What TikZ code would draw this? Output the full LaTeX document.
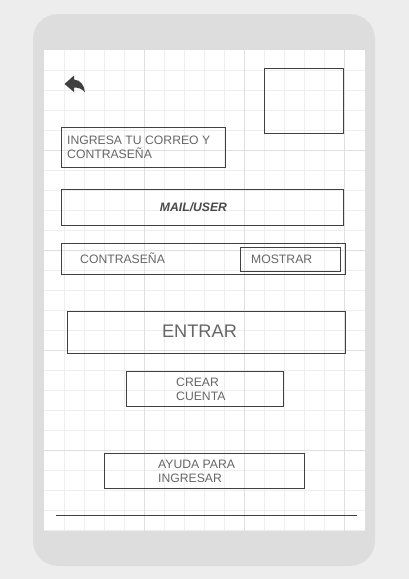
\documentclass[tikz,border=0pt]{standalone}
\usepackage{fontspec}
\setmainfont{Liberation Sans}
\definecolor{pagebg}{HTML}{EDEDED}
\definecolor{phonebg}{HTML}{DDDDDD}
\definecolor{gridlt}{HTML}{EEEEEE}
\definecolor{griddk}{HTML}{DFDFDF}
\definecolor{ink}{HTML}{404040}
\definecolor{txt}{HTML}{666666}
\tikzset{
  boxst/.style={draw=ink,line width=0.9pt,fill=none},
  lbl/.style={text=txt,font=\fontsize{12.2}{14}\selectfont,inner sep=0pt,anchor=north west,align=left},
}
\begin{document}
\begin{tikzpicture}[x=1pt,y=-1pt]
\useasboundingbox (0,0) rectangle (409,579);
\fill[pagebg] (0,0) rectangle (409,579);
\fill[phonebg,rounded corners=25pt] (33,14) rectangle (375,566);
\fill[white] (44,50) rectangle (365,531);
\foreach \x in {64.5,84.5,104.5,124.5,164.5,184.5,204.5,224.5,264.5,284.5,304.5,324.5}
  \draw[gridlt,line width=0.9pt] (\x,50) -- (\x,531);
\foreach \y in {70.5,90.5,110.5,130.5,170.5,190.5,210.5,230.5,270.5,290.5,310.5,330.5,370.5,390.5,410.5,430.5,470.5,490.5,510.5,530.5}
  \draw[gridlt,line width=0.9pt] (44,\y) -- (365,\y);
\foreach \x in {144.5,244.5,344.5}
  \draw[griddk,line width=0.9pt] (\x,50) -- (\x,531);
\foreach \y in {150.5,250.5,350.5,450.5}
  \draw[griddk,line width=0.9pt] (44,\y) -- (365,\y);
% back arrow
\fill[ink] (64.5,84) -- (74,75.5) -- (74,79.5) .. controls (81,80) and (84.5,86) .. (85,92.5)
  .. controls (82,88.5) and (78,87.5) .. (74,87.5) -- (74,92) -- cycle;
% boxes
\draw[boxst] (264.3,68.3) rectangle (343.7,133.3);
\draw[boxst] (61.3,127.3) rectangle (225.7,167.3);
\draw[boxst] (61.3,189.3) rectangle (343.7,225.3);
\draw[boxst] (61.3,243.3) rectangle (345.7,274.3);
\draw[boxst] (240.3,247.3) rectangle (340.7,271.3);
\draw[boxst] (67.3,311.3) rectangle (345.7,353.3);
\draw[boxst] (126.3,371.3) rectangle (283.7,406.3);
\draw[boxst] (104.3,453.3) rectangle (304.7,488.3);
\draw[ink,line width=0.9pt] (56,515.3) -- (357,515.3);
% labels
\node[lbl] (ingresa) at (67,136) {INGRESA TU CORREO Y\\CONTRASEÑA};
\node[lbl,anchor=center,font=\fontsize{12.2}{14}\selectfont\bfseries\itshape,text=ink!95] (mail) at (193.5,207) {MAIL/USER};
\node[lbl,anchor=base west] (contra) at (80,263.4) {CONTRASEÑA};
\node[lbl,anchor=base west] (mostrar) at (251,263.4) {MOSTRAR};
\node[lbl,anchor=center,font=\fontsize{18.2}{20}\selectfont] (entrar) at (199.5,331.5) {ENTRAR};
\node[lbl] (crear) at (176,377.5) {CREAR\\CUENTA};
\node[lbl] (ayuda) at (158,459.5) {AYUDA PARA\\INGRESAR};
\end{tikzpicture}
\end{document}
